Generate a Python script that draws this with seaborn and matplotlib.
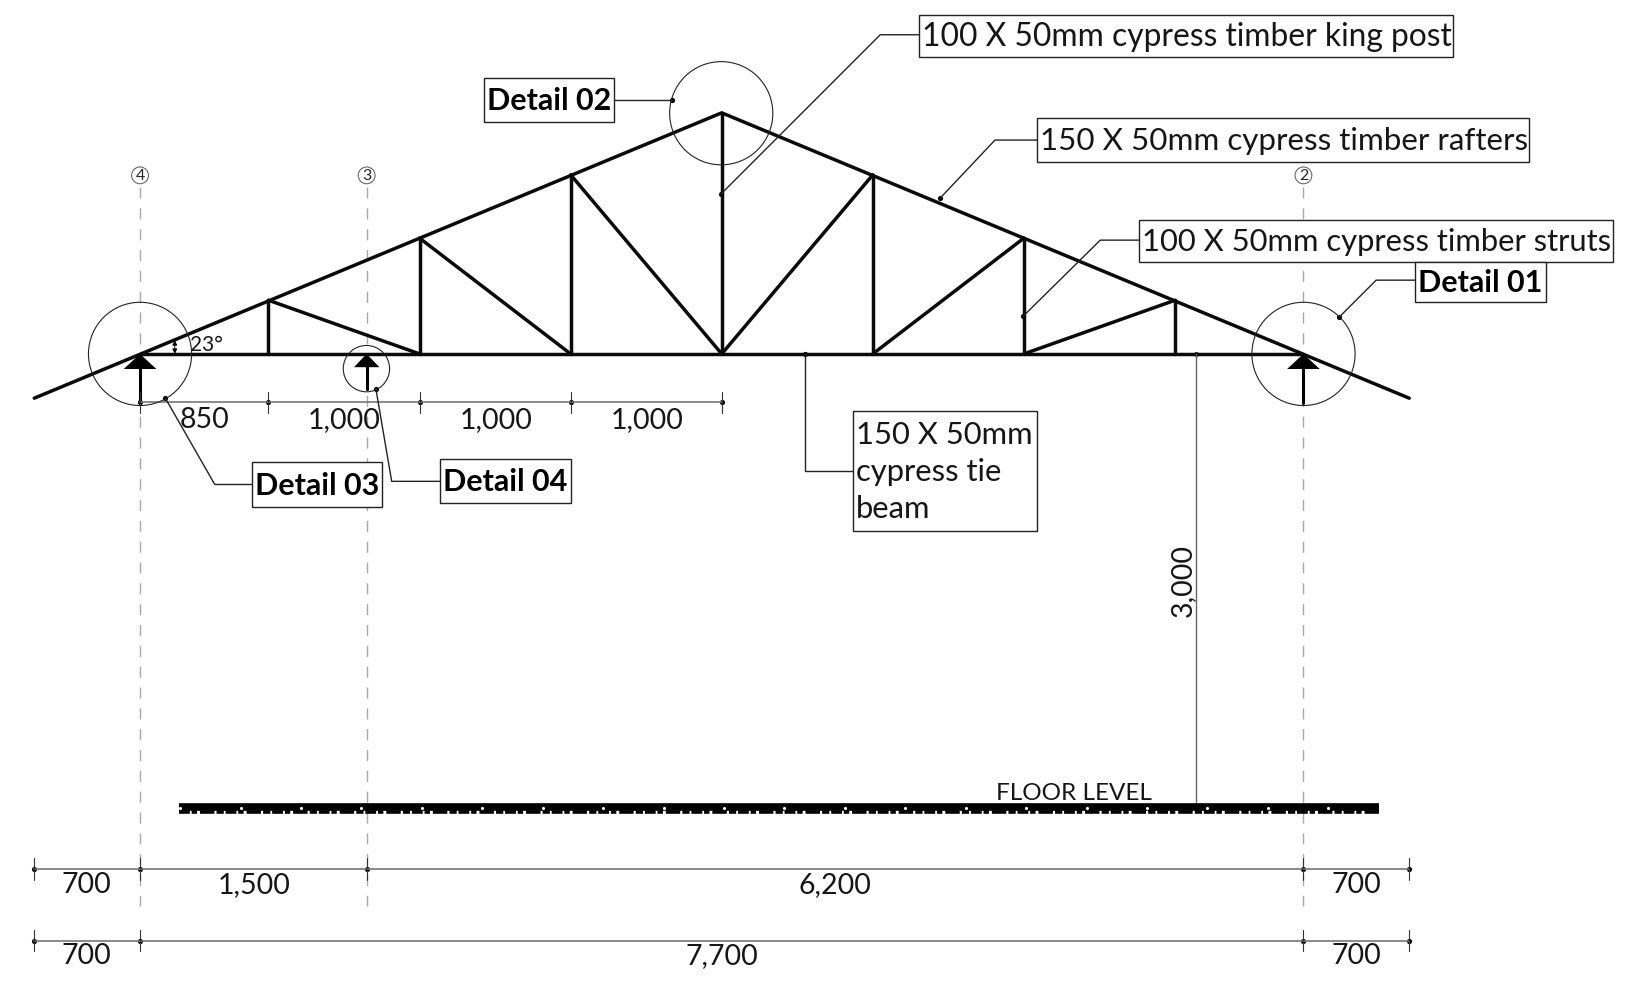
#-------
# truss.py
#-------
import pandas as pd
import seaborn as sns
import matplotlib.pyplot as plt
from matplotlib.patches import Circle, Rectangle, Polygon

# truss geometry, mm from grid 4 along the tie beam
node_x = [850, 1850, 2850, 3850, 4850, 5850, 6850]
node_h = [355, 766, 1185, 1595, 1185, 766, 355]
rafter_x = [-700, 3850, 8400]
rafter_h = [-293, 1595, -293]
tie_x = [0, 7700]
diag_top_x = [850, 1850, 2850, 4850, 5850, 6850]
diag_top_h = [355, 766, 1185, 1185, 766, 355]
diag_foot_x = [1850, 2850, 3850, 3850, 4850, 5850]

# grids
grid_x = [0, 1500, 7700]
grid_names = ["4", "3", "2"]

# dimensions
dim_top_x = [0, 850, 1850, 2850, 3850]
dim_top_labels = ["850", "1,000", "1,000", "1,000"]
dim_mid_x = [-700, 0, 1500, 7700, 8400]
dim_mid_labels = ["700", "1,500", "6,200", "700"]
dim_low_x = [-700, 0, 7700, 8400]
dim_low_labels = ["700", "7,700", "700"]
floor_x = [258, 8202]
floor_h = -3003
dim_height = "3,000"

# notes
note_texts = [
    "100 X 50mm cypress timber king post",
    "150 X 50mm cypress timber rafters",
    "100 X 50mm cypress timber struts",
    "150 X 50mm\ncypress tie\nbeam",
]
detail_texts = ["Detail 01", "Detail 02", "Detail 03", "Detail 04"]

# layout of the sheet, measured in the drawing's own pixels
note_boxes = [(873, 14, 1380, 54), (985, 112, 1452, 154), (1082, 209, 1532, 249), (810, 390, 985, 504)]
note_sizes = [22.9, 22.6, 22.3, 22.3]
note_leaders = [
    [(873, 33), (836, 33), (685, 184)],
    [(985, 133), (945, 133), (893, 188)],
    [(1082, 228), (1045, 228), (972, 300)],
    [(810, 447), (765, 447), (765, 336)],
]
detail_boxes = [(1344, 249, 1468, 287), (460, 74, 583, 116), (239, 439, 363, 481), (418, 436, 542, 478)]
detail_leaders = [
    [(1344, 266), (1307, 266), (1272, 301)],
    [(583, 95), (638, 95)],
    [(239, 460), (204, 460), (157, 378)],
    [(418, 457), (372, 457), (357, 369)],
]
SCALE = 0.1435
FONT = "Lato"
TEXT_COLOR = "#161616"


def mm_x(x):
    return (x - 133) / SCALE


def mm_y(y):
    return (336 - y) / SCALE


def draw_lines(ax, segments, color, lw, **kwargs):
    # one row per vertex, seaborn keeps the members apart by unit
    rows = [{"member": i, "x": x, "y": y} for i, seg in enumerate(segments) for x, y in seg]
    sns.lineplot(data=pd.DataFrame(rows), x="x", y="y", units="member", estimator=None,
                 sort=False, color=color, lw=lw, ax=ax, legend=False, **kwargs)


def draw_dimension(ax, xs, h, labels, label_y, label_x):
    draw_lines(ax, [[(xs[0], h), (xs[-1], h)]], "#777777", 1.2)
    draw_lines(ax, [[(x, h - 70), (x, h + 70)] for x in xs], "#333333", 0.8)
    sns.scatterplot(x=xs, y=[h] * len(xs), color="black", s=14, linewidth=0, ax=ax, legend=False)
    for mid, label in zip(label_x, labels):
        ax.text(mid, label_y, label, ha="center", va="center", fontsize=20.5,
                family=FONT, color=TEXT_COLOR)


def draw_leader(ax, leader):
    draw_lines(ax, [[(mm_x(x), mm_y(y)) for x, y in leader]], "#222222", 1.0)
    sns.scatterplot(x=[mm_x(leader[-1][0])], y=[mm_y(leader[-1][1])], color="black", s=14,
                    linewidth=0, ax=ax, legend=False)


sns.set_theme(style="white")
plt.rcParams["font.family"] = [FONT, "DejaVu Sans"]

fig = plt.figure(figsize=(16.52, 9.89), dpi=100)
ax = fig.add_axes([0, 0, 1, 1])
ax.set_xlim(mm_x(0), mm_x(1569))
ax.set_ylim(mm_y(939), mm_y(0))
ax.axis("off")

# grid lines and bubbles
draw_lines(ax, [[(x, mm_y(178)), (x, mm_y(860))] for x in grid_x], "#a8a8a8", 1.0, dashes=(8, 7))
for x, name in zip(grid_x, grid_names):
    ax.add_patch(Circle((x, mm_y(166.5)), 8 / SCALE, fc="white", ec="#555555", lw=0.7, zorder=3))
    ax.text(x, mm_y(167), name, ha="center", va="center", fontsize=11.5, family=FONT, zorder=4)

# truss
members = [list(zip(rafter_x, rafter_h)), [(tie_x[0], 0), (tie_x[1], 0)]]
members += [[(x, 0), (x, h)] for x, h in zip(node_x, node_h)]
members += [[(x, h), (f, 0)] for x, h, f in zip(diag_top_x, diag_top_h, diag_foot_x)]
draw_lines(ax, members, "#0a0a0a", 2.5)

# supports
for x, half, base, foot in [(0, 108, -100, -325), (1500, 84, -88, -234), (7700, 108, -100, -325)]:
    ax.add_patch(Polygon([(x, 0), (x - half, base), (x + half, base)], fc="black", ec="none", zorder=5))
    draw_lines(ax, [[(x, base), (x, foot)]], "black", 2.2)

# detail circles
for x, y, r in [(133, 336, 49), (1238, 336, 49), (685, 107.5, 49), (348, 350, 22)]:
    ax.add_patch(Circle((mm_x(x), mm_y(y)), r / SCALE, fill=False, ec="#222222", lw=0.8, zorder=4))

# dimensions
draw_dimension(ax, dim_top_x, mm_y(382), dim_top_labels, mm_y(399),
               [mm_x(194), mm_x(327), mm_x(471), mm_x(615)])
draw_dimension(ax, dim_mid_x, mm_y(825), dim_mid_labels, mm_y(840),
               [mm_x(82), mm_x(241), mm_x(793), mm_x(1288)])
draw_dimension(ax, dim_low_x, mm_y(893), dim_low_labels, mm_y(908),
               [mm_x(82), mm_x(686), mm_x(1288)])

# floor and height
draw_lines(ax, [[(mm_x(1136), 0), (mm_x(1136), floor_h)]], "#666666", 1.0)
sns.scatterplot(x=[mm_x(1136)], y=[0], color="black", s=12, linewidth=0, ax=ax, legend=False)
ax.text(mm_x(1123), mm_y(551), dim_height, rotation=90, ha="center", va="center",
        fontsize=20.5, family=FONT, color=TEXT_COLOR)
draw_lines(ax, [[(floor_x[0], -2995), (floor_x[1], -2995)]], "black", 5.5, solid_capstyle="butt")
draw_lines(ax, [[(floor_x[0], -3030), (floor_x[1], -3030)]], "black", 2.6,
           dashes=(3.0, 0.5, 1.5, 0.8, 4.0, 0.6, 2.0, 0.5), dash_capstyle="butt")
dot_x = list(range(265, 8000, 400))
sns.scatterplot(x=dot_x, y=[floor_h] * len(dot_x), color="white", s=5, linewidth=0, ax=ax,
                legend=False, zorder=6)
ax.text(mm_x(1020), mm_y(753), "FLOOR LEVEL", ha="center", va="center", fontsize=17.5,
        family=FONT, color=TEXT_COLOR)

# roof pitch
ax.annotate("", xy=(mm_x(166), 0), xytext=(mm_x(166), mm_y(323)),
            arrowprops=dict(arrowstyle="<|-|>", color="black", lw=0.7, mutation_scale=7, shrinkA=0, shrinkB=0))
ax.text(mm_x(180), mm_y(328), "23°", ha="left", va="center", fontsize=15, family=FONT, color=TEXT_COLOR)

# notes and details
for text, box, size, leader in zip(note_texts, note_boxes, note_sizes, note_leaders):
    x0, y0, x1, y1 = box
    ax.add_patch(Rectangle((mm_x(x0), mm_y(y1)), (x1 - x0) / SCALE, (y1 - y0) / SCALE,
                           fc="white", ec="#222222", lw=1.0, zorder=7))
    ax.text(mm_x(x0 + 3), mm_y((y0 + y1) / 2 + 1), text, ha="left", va="center", fontsize=size,
            family=FONT, color=TEXT_COLOR, linespacing=1.38, zorder=8)
    draw_leader(ax, leader)

for text, box, leader in zip(detail_texts, detail_boxes, detail_leaders):
    x0, y0, x1, y1 = box
    ax.add_patch(Rectangle((mm_x(x0), mm_y(y1)), (x1 - x0) / SCALE, (y1 - y0) / SCALE,
                           fc="white", ec="#222222", lw=1.0, zorder=7))
    ax.text(mm_x((x0 + x1) / 2), mm_y((y0 + y1) / 2 + 1), text, ha="center", va="center", fontsize=22,
            family=FONT, weight="bold", color="black", zorder=8)
    draw_leader(ax, leader)

fig.savefig("out.png", dpi=100, facecolor="white")
plt.close(fig)
